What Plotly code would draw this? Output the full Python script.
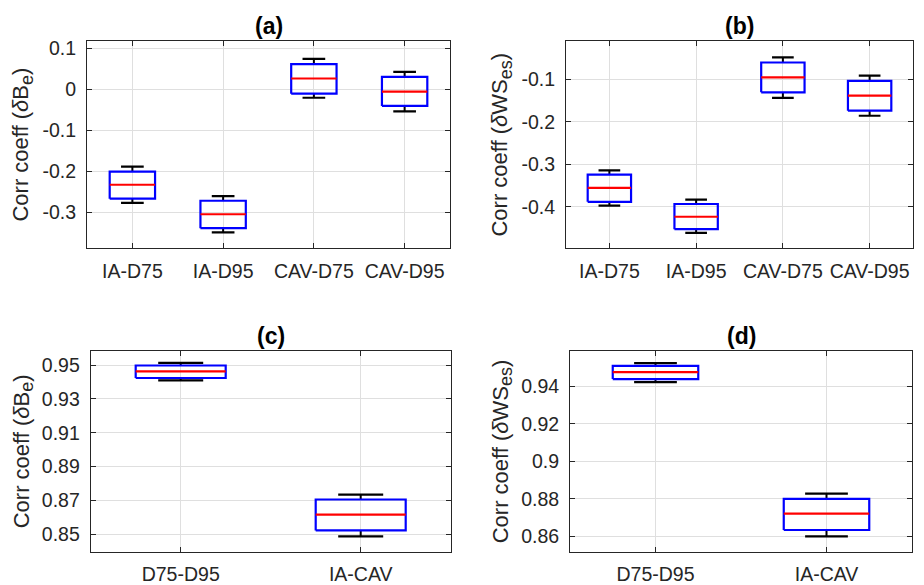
import plotly.graph_objects as go

# ---------------- data ----------------
cats_top = ["IA-D75", "IA-D95", "CAV-D75", "CAV-D95"]
cats_bot = ["D75-D95", "IA-CAV"]

# panel (a)  Corr coeff (dB_e)
a_low = [-0.276, -0.348, -0.020, -0.053]
a_q1 = [-0.266, -0.338, -0.010, -0.040]
a_med = [-0.232, -0.304, 0.027, -0.005]
a_q3 = [-0.200, -0.271, 0.062, 0.031]
a_up = [-0.188, -0.260, 0.075, 0.043]

# panel (b)  Corr coeff (dWS_es)
b_low = [-0.397, -0.461, -0.144, -0.186]
b_q1 = [-0.388, -0.452, -0.131, -0.174]
b_med = [-0.355, -0.423, -0.096, -0.139]
b_q3 = [-0.324, -0.393, -0.061, -0.104]
b_up = [-0.314, -0.383, -0.049, -0.092]

# panel (c)  Corr coeff (dB_e)
c_low = [0.9410, 0.8488]
c_q1 = [0.9424, 0.8523]
c_med = [0.9463, 0.8616]
c_q3 = [0.9498, 0.8706]
c_up = [0.9514, 0.8735]

# panel (d)  Corr coeff (dWS_es)
d_low = [0.9423, 0.8600]
d_q1 = [0.9439, 0.8634]
d_med = [0.9476, 0.8721]
d_q3 = [0.9510, 0.8800]
d_up = [0.9524, 0.8828]

a_ticks = [-0.3, -0.2, -0.1, 0, 0.1]
a_ticklabels = ["-0.3", "-0.2", "-0.1", "0", "0.1"]
b_ticks = [-0.4, -0.3, -0.2, -0.1]
b_ticklabels = ["-0.4", "-0.3", "-0.2", "-0.1"]
c_ticks = [0.85, 0.87, 0.89, 0.91, 0.93, 0.95]
c_ticklabels = ["0.85", "0.87", "0.89", "0.91", "0.93", "0.95"]
d_ticks = [0.86, 0.88, 0.90, 0.92, 0.94]
d_ticklabels = ["0.86", "0.88", "0.9", "0.92", "0.94"]

titles = ["(a)", "(b)", "(c)", "(d)"]
ylab_B = "Corr coeff (<i>δ</i>B<sub><span style='font-size:18px'>e</span></sub>)"
ylab_W = "Corr coeff (<i>δ</i>WS<sub><span style='font-size:18px'>es</span></sub>)"

# ---------------- style ----------------
W, H = 924, 585
FONT = "Liberation Sans, Arial, Helvetica, sans-serif"
TXT = "#262626"
GRID = "#dfdfdf"
TICK_SIZE = 19.5
LABEL_SIZE = 22
TITLE_SIZE = 23
BOXW = 0.25   # half box width (category units)
CAPW = 0.125  # half cap width


def px_dom_x(x0, x1):
    return [x0 / W, x1 / W]


def px_dom_y(y0, y1):
    return [1 - y1 / H, 1 - y0 / H]


panels = [
    dict(cats=cats_top, low=a_low, q1=a_q1, med=a_med, q3=a_q3, up=a_up,
         yr=[-0.387, 0.119], ticks=a_ticks, tl=a_ticklabels,
         dx=px_dom_x(87, 450), dy=px_dom_y(38, 247), ylab=ylab_B, labx=23, title_y=23),
    dict(cats=cats_top, low=b_low, q1=b_q1, med=b_med, q3=b_q3, up=b_up,
         yr=[-0.497, -0.010], ticks=b_ticks, tl=b_ticklabels,
         dx=px_dom_x(566, 913), dy=px_dom_y(38, 247), ylab=ylab_W, labx=502, title_y=23),
    dict(cats=cats_bot, low=c_low, q1=c_q1, med=c_med, q3=c_q3, up=c_up,
         yr=[0.8396, 0.9586], ticks=c_ticks, tl=c_ticklabels,
         dx=px_dom_x(90.7, 450.7), dy=px_dom_y(350, 552.7), ylab=ylab_B, labx=23, title_y=335),
    dict(cats=cats_bot, low=d_low, q1=d_q1, med=d_med, q3=d_q3, up=d_up,
         yr=[0.8517, 0.9591], ticks=d_ticks, tl=d_ticklabels,
         dx=px_dom_x(570, 912), dy=px_dom_y(350, 552.7), ylab=ylab_W, labx=502, title_y=335),
]

fig = go.Figure()
layout = dict(
    width=W, height=H, margin=dict(l=0, r=0, t=0, b=0),
    paper_bgcolor="white", plot_bgcolor="white", showlegend=False,
    font=dict(family=FONT, size=TICK_SIZE, color=TXT),
)
annotations = []

for k, p in enumerate(panels):
    n = k + 1
    xa = "x" if n == 1 else f"x{n}"
    ya = "y" if n == 1 else f"y{n}"
    pos = list(range(1, len(p["cats"]) + 1))

    wx, wy, cx, cy, bx, by, mx, my = [], [], [], [], [], [], [], []
    for i, xpos in enumerate(pos):
        wx += [xpos, xpos, None, xpos, xpos, None]
        wy += [p["up"][i], p["q3"][i], None, p["q1"][i], p["low"][i], None]
        cx += [xpos - CAPW, xpos + CAPW, None, xpos - CAPW, xpos + CAPW, None]
        cy += [p["up"][i], p["up"][i], None, p["low"][i], p["low"][i], None]
        bx += [xpos - BOXW, xpos + BOXW, xpos + BOXW, xpos - BOXW, xpos - BOXW, None]
        by += [p["q1"][i], p["q1"][i], p["q3"][i], p["q3"][i], p["q1"][i], None]
        mx += [xpos - BOXW, xpos + BOXW, None]
        my += [p["med"][i], p["med"][i], None]

    common = dict(mode="lines", xaxis=xa, yaxis=ya, hoverinfo="skip")
    fig.add_trace(go.Scatter(x=wx, y=wy, line=dict(color="black", width=2), **common))
    fig.add_trace(go.Scatter(x=cx, y=cy, line=dict(color="black", width=2.2), **common))
    fig.add_trace(go.Scatter(x=bx, y=by, line=dict(color="#0000ff", width=2.2), **common))
    fig.add_trace(go.Scatter(x=mx, y=my, line=dict(color="#ff0000", width=2.2), **common))

    axstyle = dict(showline=True, linecolor=TXT, linewidth=1, mirror="ticks",
                   ticks="inside", ticklen=5, tickcolor=TXT, showgrid=True,
                   gridcolor=GRID, gridwidth=1, zeroline=False,
                   tickfont=dict(family=FONT, size=TICK_SIZE, color=TXT))
    layout["xaxis" if n == 1 else f"xaxis{n}"] = dict(
        domain=p["dx"], range=[0.5, len(pos) + 0.5], tickvals=pos, ticktext=p["cats"],
        anchor=ya, ticklabelstandoff=5, **axstyle)
    layout["yaxis" if n == 1 else f"yaxis{n}"] = dict(
        domain=p["dy"], range=p["yr"], tickvals=p["ticks"], ticktext=p["tl"],
        anchor=xa, ticklabelstandoff=6, **axstyle)

    xc = (p["dx"][0] + p["dx"][1]) / 2
    annotations.append(dict(text=f"<b>{titles[k]}</b>", x=xc, y=1 - p["title_y"] / H,
                            xref="paper", yref="paper", xanchor="center", yanchor="middle",
                            showarrow=False, font=dict(family=FONT, size=TITLE_SIZE, color="black")))
    yc = (p["dy"][0] + p["dy"][1]) / 2
    annotations.append(dict(text=p["ylab"], x=p["labx"] / W, y=yc, xref="paper", yref="paper",
                            xanchor="center", yanchor="middle", textangle=-90,
                            showarrow=False, font=dict(family=FONT, size=LABEL_SIZE, color=TXT)))

layout["annotations"] = annotations
fig.update_layout(**layout)
fig.write_html("out.html")
